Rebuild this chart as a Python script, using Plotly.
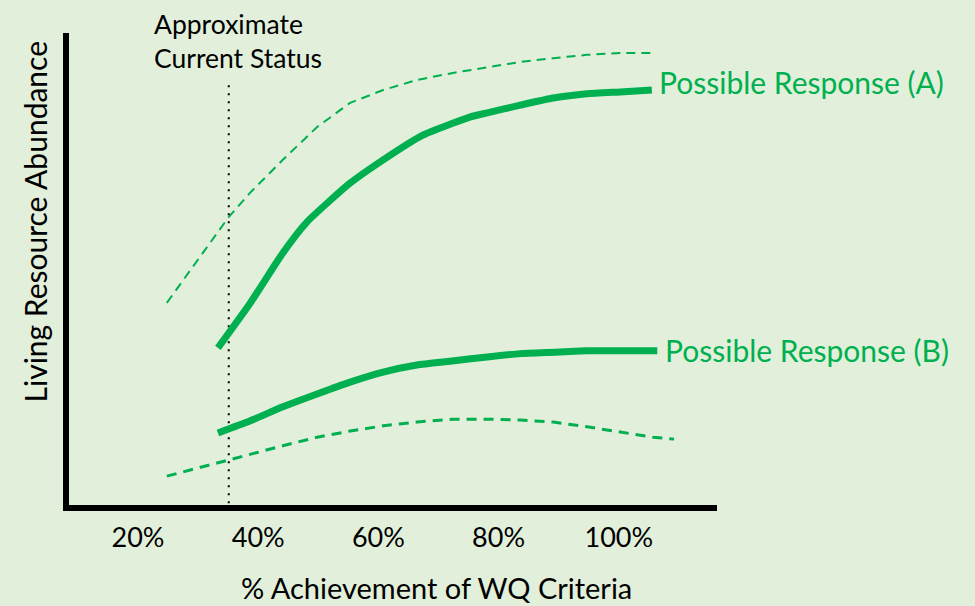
import plotly.graph_objects as go

# ---- data (x: % achievement of WQ criteria, y: relative abundance index 0-100) ----
upper_dash_x = [24.8, 27.5, 30.3, 35.0, 38.6, 44.1, 49.8, 55.3, 60.8, 66.4, 72.4, 78.1, 83.6, 89.1, 94.7, 100.2, 105.7]
upper_dash_y = [43.2, 48.0, 52.8, 61.1, 66.3, 73.3, 80.2, 85.3, 88.0, 90.1, 91.6, 92.8, 93.9, 94.7, 95.4, 95.8, 95.8]

resp_a_x = [33.3, 38.6, 44.1, 48.1, 55.3, 60.8, 67.4, 75.2, 78.1, 83.6, 89.1, 94.7, 100.2, 105.5]
resp_a_y = [33.7, 43.0, 53.7, 60.2, 68.4, 73.3, 78.5, 82.3, 83.2, 84.8, 86.3, 87.2, 87.6, 88.0]

resp_b_x = [33.3, 38.6, 44.1, 49.8, 55.3, 60.8, 66.4, 71.9, 78.1, 83.6, 89.1, 94.7, 100.2, 106.4]
resp_b_y = [15.8, 18.3, 21.3, 24.0, 26.5, 28.6, 30.1, 30.9, 31.8, 32.5, 32.8, 33.1, 33.1, 33.1]

lower_dash_x = [24.8, 35.0, 38.6, 44.1, 49.8, 55.3, 60.8, 66.4, 72.4, 78.1, 83.6, 89.1, 94.7, 100.2, 105.7, 109.2]
lower_dash_y = [6.7, 10.1, 11.4, 13.1, 14.9, 16.2, 17.3, 18.1, 18.7, 18.7, 18.5, 18.1, 17.1, 16.0, 14.9, 14.5]

current_status_x = 35.1
current_status_y = [1.0, 89.7]

tick_vals = [20, 40, 60, 80, 100]
tick_text = ["20%", "40%", "60%", "80%", "100%"]

label_a = "Possible Response (A)"
label_b = "Possible Response (B)"
label_a_pos = (106.4, 89.7)
label_b_pos = (107.4, 33.3)

GREEN = "#00B050"
BG = "#E2EFDA"
FONT = "Lato"
FS = 30

fig = go.Figure()
fig.add_trace(go.Scatter(x=upper_dash_x, y=upper_dash_y, mode="lines",
                         line=dict(color=GREEN, width=2, dash="9px,6px")))
fig.add_trace(go.Scatter(x=lower_dash_x, y=lower_dash_y, mode="lines",
                         line=dict(color=GREEN, width=3, dash="10px,7px")))
fig.add_trace(go.Scatter(x=[current_status_x, current_status_x], y=current_status_y, mode="lines",
                         line=dict(color="black", width=2, dash="2px,6px")))
fig.add_trace(go.Scatter(x=resp_a_x, y=resp_a_y, mode="lines",
                         line=dict(color=GREEN, width=7, shape="spline", smoothing=0.5)))
fig.add_trace(go.Scatter(x=resp_b_x, y=resp_b_y, mode="lines",
                         line=dict(color=GREEN, width=7, shape="spline", smoothing=0.5)))

fig.add_annotation(x=label_a_pos[0], y=label_a_pos[1], text=label_a, showarrow=False,
                   xanchor="left", yanchor="middle", font=dict(color=GREEN, size=FS, family=FONT))
fig.add_annotation(x=label_b_pos[0], y=label_b_pos[1], text=label_b, showarrow=False,
                   xanchor="left", yanchor="middle", font=dict(color=GREEN, size=FS, family=FONT))
fig.add_annotation(x=22.3, y=98.3, text="Approximate<br>Current Status", showarrow=False,
                   xanchor="left", yanchor="middle", align="left",
                   font=dict(color="black", size=26.5, family=FONT))
fig.add_annotation(x=69.75, xref="x", y=-0.175, yref="paper", text="% Achievement of WQ Criteria",
                   showarrow=False, xanchor="center", yanchor="middle",
                   font=dict(color="black", size=29, family=FONT))
fig.add_annotation(x=-0.053, xref="paper", y=0.6, yref="paper", text="Living Resource Abundance",
                   showarrow=False, textangle=-90, xanchor="center", yanchor="middle",
                   font=dict(color="black", size=FS, family=FONT))

fig.update_layout(
    width=975, height=606,
    margin=dict(l=69, r=258, t=33, b=101),
    paper_bgcolor=BG, plot_bgcolor=BG,
    showlegend=False,
    font=dict(family=FONT, size=FS, color="black"),
    xaxis=dict(range=[8.52, 116.34], showgrid=False, zeroline=False, showline=True,
               linecolor="black", linewidth=6, tickvals=tick_vals, ticktext=tick_text,
               ticks="outside", ticklen=4, tickcolor="rgba(0,0,0,0)",
               tickfont=dict(size=27, family=FONT, color="black")),
    yaxis=dict(range=[0.63, 100], showgrid=False, zeroline=False, showline=True,
               linecolor="black", linewidth=6, showticklabels=False, ticks=""),
)

fig.write_html("out.html", config={"displayModeBar": False},
               post_script="document.body.style.margin='0';document.body.style.background='%s';" % BG)
